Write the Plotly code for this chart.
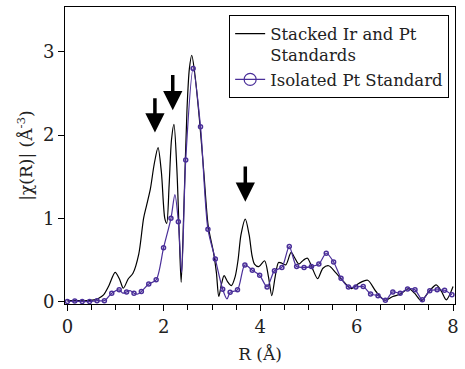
import plotly.graph_objects as go

# Stacked Ir and Pt standards (black line)
stack_r = [0.0, 0.2, 0.4, 0.55, 0.65, 0.75, 0.86, 0.99, 1.08, 1.16, 1.26, 1.36, 1.48, 1.58, 1.64,
           1.72, 1.80, 1.88, 1.95, 2.02, 2.06, 2.11, 2.16, 2.21, 2.27, 2.32, 2.36, 2.42, 2.48,
           2.53, 2.58, 2.64, 2.74, 2.83, 2.92, 3.03, 3.09, 3.14, 3.20, 3.25, 3.32, 3.40, 3.48,
           3.54, 3.60, 3.69, 3.77, 3.83, 3.88, 3.97, 4.09, 4.17, 4.24, 4.31, 4.38, 4.45, 4.53,
           4.64, 4.72, 4.80, 4.90, 4.98, 5.08, 5.19, 5.30, 5.42, 5.56, 5.70, 5.89, 6.05, 6.23,
           6.40, 6.59, 6.75, 6.90, 7.08, 7.20, 7.34, 7.50, 7.65, 7.76, 7.86, 8.0]
stack_chi = [0.01, 0.01, 0.01, 0.02, 0.04, 0.08, 0.19, 0.35, 0.27, 0.16, 0.27, 0.34, 0.57, 1.0, 1.15,
             1.35, 1.65, 1.85, 1.55, 1.0, 0.94, 1.4, 1.95, 2.13, 1.6, 0.8, 0.23, 1.2, 2.3,
             2.8, 2.96, 2.75, 2.18, 1.55, 0.91, 0.59, 0.35, 0.06, 0.22, 0.31, 0.24, 0.19, 0.30,
             0.50, 0.80, 0.99, 0.80, 0.55, 0.45, 0.42, 0.49, 0.30, 0.07, 0.30, 0.47, 0.46, 0.44,
             0.59, 0.52, 0.45, 0.50, 0.52, 0.40, 0.275, 0.40, 0.43, 0.35, 0.26, 0.155, 0.22, 0.255,
             0.12, 0.015, 0.06, 0.087, 0.155, 0.10, 0.01, 0.12, 0.20, 0.12, 0.02, 0.18]

# Isolated Pt standard: values at marker positions
pt_r = [0.0, 0.153, 0.307, 0.460, 0.614, 0.767, 0.920, 1.074, 1.227, 1.381, 1.534, 1.687, 1.841,
        1.994, 2.148, 2.301, 2.454, 2.608, 2.761, 2.915, 3.068, 3.221, 3.375, 3.528, 3.682,
        3.835, 3.988, 4.142, 4.295, 4.449, 4.602, 4.755, 4.909, 5.062, 5.216, 5.369, 5.522,
        5.676, 5.829, 5.983, 6.136, 6.289, 6.443, 6.596, 6.750, 6.903, 7.056, 7.210, 7.363,
        7.517, 7.670, 7.824, 7.977]
pt_chi = [0.0, 0.005, 0.0, 0.0, 0.01, 0.01, 0.10, 0.14, 0.115, 0.10, 0.12, 0.21, 0.26,
          0.645, 1.0, 0.96, 1.70, 2.80, 2.10, 0.87, 0.51, 0.147, 0.11, 0.14, 0.44,
          0.375, 0.315, 0.175, 0.37, 0.41, 0.66, 0.42, 0.41, 0.42, 0.45, 0.58, 0.475,
          0.28, 0.175, 0.175, 0.18, 0.09, 0.07, 0.015, 0.115, 0.10, 0.15, 0.14, 0.02,
          0.13, 0.14, 0.135, 0.08]
# Isolated Pt standard: extra points between markers
pt_extra_r = [1.15, 1.30, 1.46, 2.23, 2.37, 3.31]
pt_extra_chi = [0.10, 0.13, 0.09, 1.285, 0.35, 0.03]

# Arrows: (R, tail chi, tip chi)
arrow_r = [1.815, 2.185, 3.69]
arrow_tail = [2.46, 2.74, 1.64]
arrow_tip = [2.03, 2.30, 1.20]

purple = "#4a2f99"
font_family = "DejaVu Serif, serif"

line_pts = sorted(zip(pt_r + pt_extra_r, pt_chi + pt_extra_chi))
line_r = [p[0] for p in line_pts]
line_chi = [p[1] for p in line_pts]

fig = go.Figure()
fig.add_trace(go.Scatter(x=stack_r, y=stack_chi, mode="lines", name="Stacked Ir and Pt<br>Standards",
                         line=dict(color="black", width=1.2, shape="spline", smoothing=0.8)))
fig.add_trace(go.Scatter(x=line_r, y=line_chi, mode="lines", showlegend=False,
                         line=dict(color=purple, width=1.2, shape="spline", smoothing=0.8)))
fig.add_trace(go.Scatter(x=pt_r, y=pt_chi, mode="markers", showlegend=False,
                         marker=dict(symbol="circle-open", size=4, color=purple, line=dict(width=1.5, color=purple))))
fig.add_trace(go.Scatter(x=[None], y=[None], mode="lines+markers", name="Isolated Pt Standard",
                         line=dict(color=purple, width=1.2),
                         marker=dict(symbol="circle-open", size=12, color=purple, line=dict(width=1.2, color=purple))))

for r, t0, t1 in zip(arrow_r, arrow_tail, arrow_tip):
    fig.add_annotation(x=r, y=t1, ax=r, ay=t0, xref="x", yref="y", axref="x", ayref="y",
                       text="", showarrow=True, arrowhead=2, arrowsize=1.1, arrowwidth=3.5,
                       arrowcolor="black", standoff=0)

fig.update_layout(
    width=465, height=369,
    margin=dict(l=65, r=6, t=7, b=64.5),
    paper_bgcolor="white", plot_bgcolor="white",
    font=dict(family=font_family, size=17, color="#222"),
    legend=dict(x=0.985, y=0.972, xanchor="right", yanchor="top", bordercolor="black", borderwidth=1,
                bgcolor="white", font=dict(family=font_family, size=16.5, color="#222"),
                valign="top", tracegroupgap=0, itemwidth=30),
    showlegend=True,
)
fig.update_xaxes(range=[-0.05, 8.04], dtick=2, tick0=0, ticks="outside", ticklen=6, tickcolor="black",
                 showline=True, linecolor="black", linewidth=1, mirror=True, showgrid=False, zeroline=False,
                 minor=dict(dtick=0.5, ticks="outside", ticklen=5, tickcolor="black", showgrid=False),
                 tickfont=dict(size=18),
                 title=dict(text="R (Å)", font=dict(size=17), standoff=12))
fig.update_yaxes(range=[-0.03, 3.54], dtick=1, tick0=0, ticks="outside", ticklen=6, tickcolor="black",
                 showline=True, linecolor="black", linewidth=1, mirror=True, showgrid=False, zeroline=False,
                 tickfont=dict(size=18),
                 title=dict(text="|χ(R)| (Å<sup>-3</sup>)", font=dict(size=17), standoff=5))

fig.write_html("out.html", config={"displayModeBar": False},
               post_script="document.body.style.margin='0';")
